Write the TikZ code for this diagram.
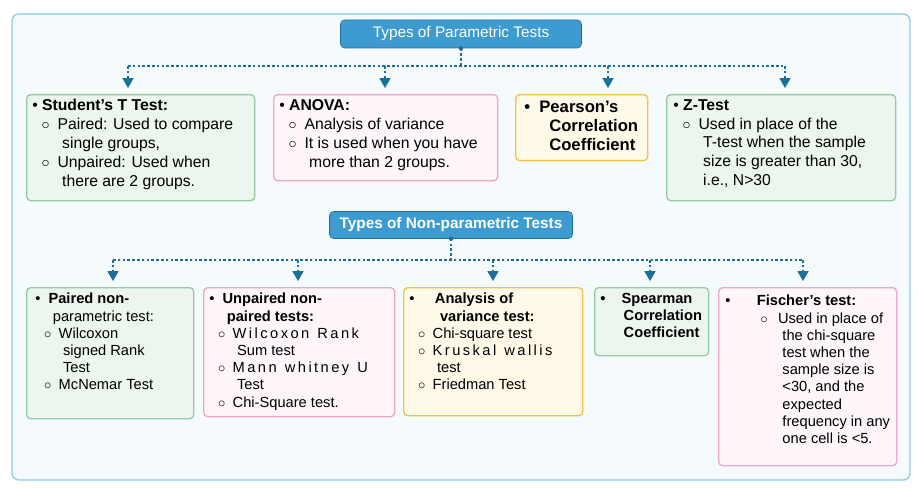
\documentclass[tikz,border=0pt]{standalone}
\usepackage{fontspec}
\setmainfont{Liberation Sans}
\usetikzlibrary{arrows,positioning}
\definecolor{frameblue}{HTML}{8CCBE6}
\definecolor{framefill}{HTML}{F5FAFD}
\definecolor{titleblue}{HTML}{3D9BCF}
\definecolor{titleline}{HTML}{1F6E9A}
\definecolor{linkblue}{HTML}{1C6F99}
\definecolor{greenline}{HTML}{96CBA5}
\definecolor{greenfill}{HTML}{ECF6EE}
\definecolor{pinkline}{HTML}{EFA7C4}
\definecolor{pinkfill}{HTML}{FEF6F9}
\definecolor{yellowline}{HTML}{F3C444}
\definecolor{yellowfill}{HTML}{FFF9E8}
\newcommand{\subit}{\hspace*{0.6em}$\circ$\hspace{0.5em}}
\newcommand{\subin}{\hspace*{1.9em}}
\begin{document}
\begin{tikzpicture}[x=0.75pt,y=-0.75pt]
  \tikzset{main node/.style={rectangle, draw, rounded corners=3pt,
  		line width=1pt, anchor=north west}, }
  \tikzset{green box/.style={main node, draw=greenline, fill=greenfill}, }
  \tikzset{pink box/.style={main node, draw=pinkline, fill=pinkfill}, }
  \tikzset{yellow box/.style={main node, draw=yellowline, fill=yellowfill}, }
  \tikzset{title node/.style={rectangle, draw=titleline, fill=titleblue,
  		rounded corners=3pt, text=white, font=\fontsize{11.5}{13}\selectfont}, }
  \tikzset{box text/.style={anchor=north west, align=left, inner sep=0pt}, }
  \tikzset{bus/.style={dash pattern=on 2pt off 1.6pt, linkblue, line width=1pt}, }
  \tikzset{linea/.style={bus, -triangle 60}, }
  \useasboundingbox (0,0) rectangle (919,488);
  \draw[frameblue, fill=framefill, rounded corners=5pt, line width=1pt]
    (12,14) rectangle (910,480);
%% parametric
  \node[title node, minimum width=241*0.75pt, minimum height=28*0.75pt] (pt) at (461,34) {Types of Parametric Tests};
  \node[green box, minimum width=228*0.75pt, minimum height=106*0.75pt] (p1) at (26,94) {};
  \node[pink box, minimum width=224*0.75pt, minimum height=86*0.75pt] (p2) at (273,94) {};
  \node[yellow box, minimum width=132*0.75pt, minimum height=66*0.75pt] (p3) at (515,94) {};
  \node[green box, minimum width=229*0.75pt, minimum height=106*0.75pt] (p4) at (666,94) {};
  \begin{scope}[every node/.append style={font=\fontsize{11.8}{14.2}\selectfont}]
    \node[box text] (t1) at (32,99) {\textbullet\ \textbf{Student's T Test:}\\
      \subit Paired: Used to compare\\ \subin single groups,\\
      \subit Unpaired: Used when\\ \subin there are 2 groups.};
    \node[box text] (t2) at (279,99) {\textbullet\ \textbf{ANOVA:}\\
      \subit Analysis of variance\\ \subit It is used when you have\\
      \subin more than 2 groups.};
    \node[box text, font=\fontsize{12.5}{14.2}\selectfont\bfseries] (t3) at (524,101) {\textbullet\ \ Pearson's\\
      \hspace*{1.5em}Correlation\\ \hspace*{1.5em}Coefficient};
    \node[box text] (t4) at (673,99) {\textbullet\ \textbf{Z-Test}\\
      \subit Used in place of the\\ \subin T-test when the sample\\
      \subin size is greater than 30,\\ \subin i.e., N>30};
  \end{scope}
  \fill[linkblue] (pt.south) circle (2.2);
  \coordinate (pb) at (461,66);
  \draw[bus] (pt.south) -- (pb);
  \draw[bus] (128,66) -- (785,66);
  \foreach \x / \y in {128/p1,385/p2,608/p3,785/p4}
    \draw[linea] (\x,66) -- (\x,88);
%% non-parametric
  \node[title node, font=\fontsize{11.5}{13}\selectfont\bfseries, minimum width=243*0.75pt, minimum height=27*0.75pt] (nt) at (451,225) {Types of Non-parametric Tests};
  \node[green box, minimum width=167*0.75pt, minimum height=131*0.75pt] (n1) at (26,287) {};
  \node[pink box, minimum width=191*0.75pt, minimum height=129*0.75pt] (n2) at (203,287) {};
  \node[yellow box, minimum width=179*0.75pt, minimum height=128*0.75pt] (n3) at (403,287) {};
  \node[green box, minimum width=114*0.75pt, minimum height=68*0.75pt] (n4) at (594,287) {};
  \node[pink box, minimum width=178*0.75pt, minimum height=178*0.75pt] (n5) at (718,287) {};
  \begin{scope}[every node/.append style={font=\fontsize{11}{12.9}\selectfont}]
    \node[box text] (u1) at (35,293) {\textbullet\ \ \textbf{Paired non-}\\
      \hspace*{1.2em}parametric test:\\ \subit Wilcoxon\\ \subin signed Rank\\
      \subin Test\\ \subit McNemar Test};
    \node[box text] (u2) at (209,293) {\textbullet\ \ \textbf{Unpaired non-}\\
      \hspace*{1.2em}\textbf{paired tests:}\\ \subit W\,i\,l\,c\,o\,x\,o\,n\ \ R\,a\,n\,k\\
      \subin Sum test\\ \subit M\,a\,n\,n\ \ w\,h\,i\,t\,n\,e\,y\ \ U\\ \subin Test\\
      \subit Chi-Square test.};
    \node[box text] (u3) at (409,293) {\textbullet\hspace{1.4em}\textbf{Analysis of}\\
      \hspace*{2.1em}\textbf{variance test:}\\ \subit Chi-square test\\
      \subit K\,r\,u\,s\,k\,a\,l\ \ w\,a\,l\,l\,i\,s\\ \subin test\\ \subit Friedman Test};
    \node[box text, font=\fontsize{11}{12.9}\selectfont\bfseries] (u4) at (600,293) {\textbullet\hspace{1.1em}Spearman\\
      \hspace*{1.6em}Correlation\\ \hspace*{1.6em}Coefficient};
    \node[box text] (u5) at (725,295) {\textbullet\hspace{1.8em}\textbf{Fischer's test:}\\
      \hspace*{2.4em}$\circ$\hspace{0.7em}Used in place of\\ \hspace*{3.9em}the chi-square\\
      \hspace*{3.9em}test when the\\ \hspace*{3.9em}sample size is\\
      \hspace*{3.9em}<30, and the\\ \hspace*{3.9em}expected\\
      \hspace*{3.9em}frequency in any\\ \hspace*{3.9em}one cell is <5.};
  \end{scope}
  \fill[linkblue] (nt.south) circle (2.2);
  \coordinate (nb) at (451,260);
  \draw[bus] (nt.south) -- (nb);
  \draw[bus] (113,260) -- (803,260);
  \foreach \x / \y in {113/n1,298/n2,493/n3,650/n4,803/n5}
    \draw[linea] (\x,260) -- (\x,281);
%%
\end{tikzpicture}
\end{document}
